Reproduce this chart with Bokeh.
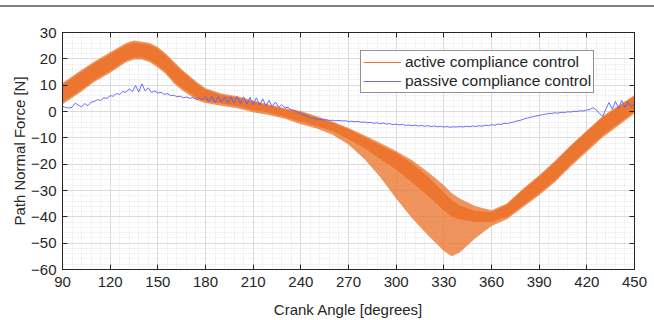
from bokeh.plotting import figure
from bokeh.models import (ColumnDataSource, FixedTicker, Legend, LegendItem,
                          LinearAxis, Range1d)
from bokeh.embed import file_html
from bokeh.resources import INLINE

# ---------------- data ----------------
x_ticks = [90, 120, 150, 180, 210, 240, 270, 300, 330, 360, 390, 420, 450]
y_ticks = [-60, -50, -40, -30, -20, -10, 0, 10, 20, 30]

# active compliance control: envelope of the oscillating force signal
act_angle = [90, 100, 110, 120, 130, 135, 140, 145, 150, 155, 160, 165, 170, 175,
             180, 190, 200, 210, 220, 230, 240, 250, 260, 270, 280, 290, 300, 310,
             320, 330, 335, 340, 350, 360, 370, 380, 390, 400, 410, 420, 430, 440, 450]
act_core_hi = [10, 14, 18, 21.5, 25, 26, 25.5, 25, 23.5, 21, 18, 15, 12.5, 10,
               8, 6, 5, 3.5, 2, 0.5, -0.5, -2.5, -4.5, -7, -10, -13, -16, -20,
               -25, -31, -34, -36, -38, -38.5, -35.5, -30, -25, -19.5, -13.5, -8, -2.5, 1.5, 5.5]
act_core_lo = [3.5, 7.5, 12, 15.5, 19.5, 20.5, 20.5, 19.5, 17.5, 15, 11.5, 9, 7, 5,
               4, 3, 2, 0.5, -0.5, -2, -4, -5.5, -7.5, -10.5, -14, -18, -22, -27,
               -32, -37.5, -40, -41, -42, -42, -40, -35.5, -31, -26, -20, -14.5, -9, -4.5, 0]
act_outer_hi = [10.8, 15, 19, 22.5, 26, 27, 26.5, 26, 24.5, 22, 19, 16, 13.5, 11,
                8.8, 6.8, 5.8, 4.2, 2.7, 1.2, 0.2, -1.8, -3.8, -6.3, -9, -12, -15, -18.5,
                -23, -28, -31, -33, -36, -37.5, -34.8, -29.2, -24.2, -18.7, -12.7, -7.2, -1.7, 2.3, 6.3]
act_outer_lo = [2.8, 6.7, 11.2, 14.7, 18.7, 19.7, 19.7, 18.7, 16.7, 14.2, 10.7, 8.2, 6.2, 4.2,
                3.2, 2.2, 1.2, -0.3, -1.3, -2.8, -4.8, -6.5, -8.8, -12.5, -18, -25, -33, -40.5,
                -47, -53, -55, -53.5, -48, -43.5, -40.8, -36.3, -31.8, -26.8, -20.8, -15.3, -9.8, -5.3, -0.8]

# passive compliance control
pas_angle = list(range(90, 451, 2))
pas_force = [
    2.0, 1.5, 1.3, 1.6, 3.2, 2.4, 1.8, 3.0, 2.2, 3.5,
    3.8, 4.5, 4.2, 5.2, 5.0, 6.0, 5.8, 6.8, 6.5, 7.6,
    7.3, 8.6, 7.6, 9.8, 7.4, 10.5, 7.8, 9.0, 7.2, 7.8,
    7.0, 7.3, 6.5, 6.8, 6.0, 6.2, 5.6, 5.8, 5.2, 5.5,
    5.0, 5.3, 4.6, 5.0, 4.4, 5.6, 3.6, 5.8, 3.4, 5.6,
    3.6, 5.4, 3.4, 5.6, 3.2, 5.8, 3.0, 5.6, 2.8, 5.4,
    2.6, 5.2, 2.4, 4.8, 2.2, 4.2, 1.8, 3.6, 1.6, 2.6,
    1.4, 1.6, 0.6, 0.4, -0.4, -0.8, -1.4, -1.8, -2.4, -2.6,
    -2.9, -3.0, -3.2, -3.1, -3.4, -3.3, -3.5, -3.4, -3.6, -3.5,
    -3.8, -3.7, -3.9, -3.8, -4.1, -4.0, -4.3, -4.1, -4.5, -4.3,
    -4.6, -4.4, -4.8, -4.6, -5.0, -4.8, -5.1, -4.9, -5.3, -5.1,
    -5.4, -5.2, -5.5, -5.3, -5.6, -5.4, -5.7, -5.5, -5.8, -5.6,
    -5.9, -5.7, -6.0, -5.8, -5.9, -5.7, -5.9, -5.6, -5.8, -5.5,
    -5.7, -5.4, -5.6, -5.2, -5.4, -5.0, -5.2, -4.8, -4.9, -4.5,
    -4.6, -4.2, -4.0, -3.6, -3.4, -2.9, -2.6, -2.3, -2.0, -1.7,
    -1.5, -1.2, -1.0, -0.8, -0.7, -0.5, -0.6, -0.3, -0.4, -0.1,
    -0.2, 0.1, 0.0, 0.3, 0.2, 0.6, 0.8, 1.4, 0.6, -0.8,
    -1.8, 1.0, 3.4, 0.8, 3.8, 1.2, 4.2, 1.6, 3.6, 1.8,
    3.0,
]

labels = ["active compliance control", "passive compliance control"]
x_label = "Crank Angle [degrees]"
y_label = "Path Normal Force [N]"

# ---------------- styling ----------------
ORANGE = "#EC7630"
BLUE = "#5C5CFF"
TXT = "#262626"
FONT = "Liberation Sans"

p = figure(width=654, height=320, x_range=Range1d(90, 450), y_range=Range1d(-60, 30),
           output_backend="svg", toolbar_location=None,
           min_border_left=62, min_border_right=20, min_border_top=32, min_border_bottom=49)
p.background_fill_color = "white"
p.border_fill_alpha = 0.0
# grey rule across the very top of the page (drawn as the page element's background)
p.styles = {"background": "linear-gradient(to bottom, #ffffff 0px, #ffffff 5px, "
                          "#7f7f7f 5px, #7f7f7f 7px, #ffffff 7px, #ffffff 100%)"}
p.outline_line_color = TXT
p.outline_line_width = 1

xt = FixedTicker(ticks=x_ticks, minor_ticks=list(range(90, 451, 6)))
yt = FixedTicker(ticks=y_ticks, minor_ticks=list(range(-60, 31, 2)))

for ax, tk in ((p.xaxis[0], xt), (p.yaxis[0], yt)):
    ax.ticker = tk
    ax.major_tick_in = 5
    ax.major_tick_out = 0
    ax.minor_tick_in = 0
    ax.minor_tick_out = 0
    ax.axis_line_color = TXT
    ax.major_tick_line_color = TXT
    ax.major_label_text_font = FONT
    ax.major_label_text_font_size = "15px"
    ax.major_label_text_color = TXT
    ax.axis_label_text_font = FONT
    ax.axis_label_text_font_size = "15px"
    ax.axis_label_text_font_style = "normal"
    ax.axis_label_text_color = TXT

p.xaxis.axis_label = x_label
p.yaxis.axis_label = y_label
p.xaxis.major_label_standoff = 7
p.xaxis.axis_label_standoff = 11
p.yaxis.major_label_standoff = 6
p.yaxis.axis_label_standoff = 0

# box ticks on top and right (no labels)
for loc, tk, tks in (("above", xt, x_ticks), ("right", yt, y_ticks)):
    a = LinearAxis(ticker=tk, major_tick_in=5, major_tick_out=0,
                   minor_tick_in=0, minor_tick_out=0,
                   major_label_overrides={t: "" for t in tks},
                   major_label_standoff=0,
                   axis_line_color=TXT, major_tick_line_color=TXT)
    p.add_layout(a, loc)

for g, tk in ((p.xgrid[0], xt), (p.ygrid[0], yt)):
    g.ticker = tk
    g.grid_line_color = "#dcdcdc"
    g.grid_line_width = 1
    g.minor_grid_line_color = "#d8d8d8"
    g.minor_grid_line_dash = "1 2"
    g.minor_grid_line_alpha = 0.8

src_a = ColumnDataSource(dict(x=act_angle, chi=act_core_hi, clo=act_core_lo,
                              ohi=act_outer_hi, olo=act_outer_lo))
p.varea(x="x", y1="olo", y2="ohi", source=src_a, fill_color=ORANGE, fill_alpha=0.78)
p.varea(x="x", y1="clo", y2="chi", source=src_a, fill_color=ORANGE, fill_alpha=1.0)
# thin edge of the dense core (also serves as the legend glyph)
r_la = p.line(x="x", y="chi", source=src_a, line_color=ORANGE, line_width=1.2)

src_p = ColumnDataSource(dict(x=pas_angle, y=pas_force))
r_p = p.line(x="x", y="y", source=src_p, line_color=BLUE, line_width=1, line_alpha=0.9)

legend = Legend(items=[LegendItem(label=labels[0], renderers=[r_la]),
                       LegendItem(label=labels[1], renderers=[r_p])],
                location=(298, 176), orientation="vertical")
legend.label_text_font = FONT
legend.label_text_font_size = "15.5px"
legend.label_text_color = TXT
legend.glyph_width = 38
legend.glyph_height = 18
legend.label_height = 18
legend.label_standoff = 4
legend.spacing = 1
legend.padding = 2
legend.margin = 0
legend.border_line_color = TXT
legend.border_line_width = 1
legend.background_fill_color = "white"
legend.background_fill_alpha = 1.0
p.add_layout(legend, "center")

open("out.html", "w").write(file_html(p, INLINE))
